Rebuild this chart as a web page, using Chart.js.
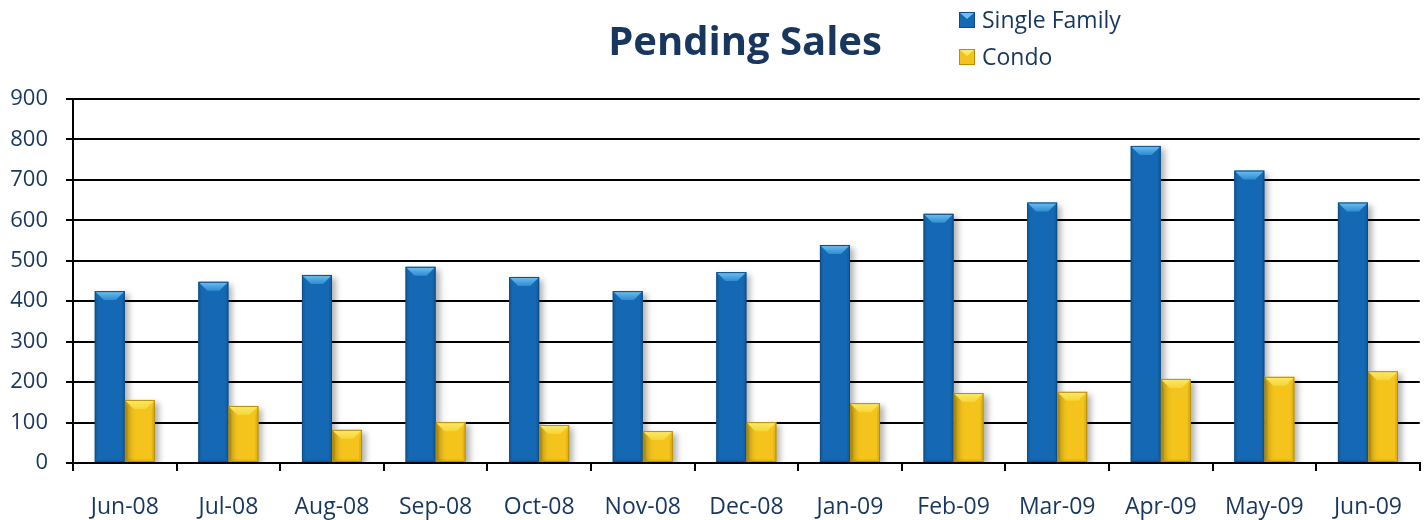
<!DOCTYPE html>
<html>
<head>
<meta charset="utf-8">
<script src="https://cdn.jsdelivr.net/npm/chart.js@4"></script>
<style>
  html, body { margin: 0; padding: 0; background: #fff; }
  #wrap { width: 1425px; height: 520px; position: relative; }
</style>
</head>
<body>
<div id="wrap"><canvas id="myChart"></canvas></div>
<script>
// data
const months = ['Jun-08', 'Jul-08', 'Aug-08', 'Sep-08', 'Oct-08', 'Nov-08', 'Dec-08',
                'Jan-09', 'Feb-09', 'Mar-09', 'Apr-09', 'May-09', 'Jun-09'];
const singleFamily = [425, 448, 465, 485, 460, 425, 472, 539, 616, 644, 784, 723, 644];
const condo = [156, 141, 82, 101, 94, 79, 101, 148, 173, 176, 208, 213, 227];
const seriesNames = ['Single Family', 'Condo'];
const titleText = 'Pending Sales';
const yMax = 900;
const yStep = 100;

const navy = '#17375E';
const font = '"Open Sans", "DejaVu Sans", sans-serif';

// bevel look: light top cap, darker bottom and sides, drop shadow
const bevelPlugin = {
  id: 'bevel',
  beforeDatasetsDraw(chart) {
    const c = chart.ctx;
    c.save();
    c.shadowColor = 'rgba(0,0,0,0.3)';
    c.shadowBlur = 6;
    c.shadowOffsetX = 4;
    c.shadowOffsetY = 3;
  },
  afterDatasetsDraw(chart) {
    const c = chart.ctx;
    c.restore();
    chart.data.datasets.forEach((ds, i) => {
      const meta = chart.getDatasetMeta(i);
      meta.data.forEach(bar => {
        const { x, y, base, width } = bar.getProps(['x', 'y', 'base', 'width'], true);
        const l = x - width / 2, r = x + width / 2;
        const b = Math.min(9, (base - y) / 2);
        // sides
        c.fillStyle = 'rgba(0,0,0,0.08)';
        c.beginPath();
        c.moveTo(l, y); c.lineTo(l + 3, y + b); c.lineTo(l + 3, base - 3); c.lineTo(l, base);
        c.closePath(); c.fill();
        c.beginPath();
        c.moveTo(r, y); c.lineTo(r - 3, y + b); c.lineTo(r - 3, base - 3); c.lineTo(r, base);
        c.closePath(); c.fill();
        // bottom
        c.fillStyle = 'rgba(0,0,0,0.05)';
        c.beginPath();
        c.moveTo(l, base); c.lineTo(r, base); c.lineTo(r - 3, base - 3); c.lineTo(l + 3, base - 3);
        c.closePath(); c.fill();
        // top cap
        const g = c.createLinearGradient(0, y, 0, y + b);
        g.addColorStop(0, ds.capTop);
        g.addColorStop(1, ds.capBottom);
        c.fillStyle = g;
        c.beginPath();
        c.moveTo(l, y); c.lineTo(r, y); c.lineTo(r - b, y + b); c.lineTo(l + b, y + b);
        c.closePath(); c.fill();
        c.strokeStyle = ds.borderColor;
        c.lineWidth = 1;
        c.strokeRect(l + 0.5, y + 0.5, width - 1, base - y - 1);
      });
    });
  }
};

// title and legend in the top band
const headerPlugin = {
  id: 'header',
  afterDraw(chart) {
    const c = chart.ctx;
    c.save();
    c.fillStyle = navy;
    c.font = 'bold 40px ' + font;
    c.textAlign = 'center';
    c.textBaseline = 'alphabetic';
    c.fillText(titleText, 745, 55);

    c.font = '23px ' + font;
    c.textAlign = 'left';
    chart.data.datasets.forEach((ds, i) => {
      const top = 12 + i * 37;
      c.fillStyle = ds.backgroundColor;
      c.fillRect(959, top, 16, 16);
      c.fillStyle = ds.capTop;
      c.beginPath();
      c.moveTo(959, top); c.lineTo(975, top); c.lineTo(967, top + 7);
      c.closePath(); c.fill();
      c.strokeStyle = ds.borderColor;
      c.strokeRect(959.5, top + 0.5, 15, 15);
      c.fillStyle = navy;
      c.fillText(ds.label, 982, top + 16);
    });
    c.restore();
  }
};

const data = {
  labels: months,
  datasets: [
    {
      label: seriesNames[0],
      data: singleFamily,
      backgroundColor: '#1569B4',
      borderColor: '#0D4C86',
      capTop: '#6FC0EE',
      capBottom: '#2E8CD2',
    },
    {
      label: seriesNames[1],
      data: condo,
      backgroundColor: '#F4C41C',
      borderColor: '#B88E08',
      capTop: '#FBEA6A',
      capBottom: '#F6D436',
    }
  ]
};

const config = {
  type: 'bar',
  data: data,
  plugins: [bevelPlugin, headerPlugin],
  options: {
    responsive: true,
    maintainAspectRatio: false,
    animation: false,
    layout: { padding: { top: 99, right: 0, left: 0, bottom: 0 } },
    datasets: {
      bar: { categoryPercentage: 0.58, barPercentage: 1.0, borderWidth: 0 }
    },
    scales: {
      x: {
        grid: { drawOnChartArea: false, offset: true, color: '#000', lineWidth: 2, tickLength: 8 },
        border: { color: '#000', width: 2 },
        ticks: { color: navy, padding: 23, font: { family: font, size: 23 }, maxRotation: 0 },
        afterFit: (scale) => { scale.height = 57; }
      },
      y: {
        min: 0,
        max: yMax,
        ticks: { stepSize: yStep, color: navy, padding: 18, font: { family: font, size: 22 } },
        grid: { color: '#000', lineWidth: 2, tickLength: 7 },
        border: { color: '#000', width: 2 },
        afterFit: (scale) => { scale.width = 73; }
      }
    },
    plugins: {
      legend: { display: false },
      title: { display: false },
      tooltip: { enabled: false }
    }
  }
};

const ctx = document.getElementById('myChart').getContext('2d');
const myChart = new Chart(ctx, config);
</script>
</body>
</html>
